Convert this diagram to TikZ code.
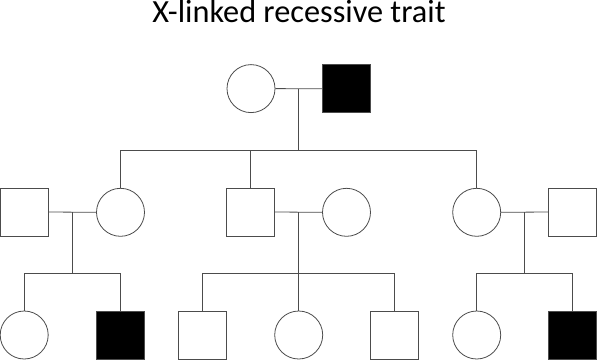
\documentclass[tikz,border=0pt]{standalone}
\usepackage{fontspec}
\setmainfont{Carlito}
\begin{document}
\begin{tikzpicture}[x=1pt,y=-1pt,
  ln/.style={draw=black!70, line width=0.8pt},
  fem/.style={ln, circle, minimum size=48pt, inner sep=0pt, fill=white},
  mal/.style={ln, rectangle, minimum size=48pt, inner sep=0pt, fill=white},
  aff/.style={mal, fill=black}]
\useasboundingbox (0,0) rectangle (597,360);
\node[anchor=base, font=\fontsize{32.3}{38}\selectfont] (title) at (299,22.7) {X-linked recessive trait};
% generation 1
\node[fem] (g1f) at (251,88.6) {};
\node[aff] (g1m) at (346.4,88.8) {};
\coordinate (g1j) at (298.7,88.7);
\coordinate (g1s) at (298.7,150);
\coordinate (sibL) at (120.5,150);
\coordinate (sibM) at (250.8,150);
\coordinate (sibR) at (476.7,150);
% generation 2
\node[mal] (g2a) at (24.2,212) {};
\node[fem] (g2b) at (120.5,212.3) {};
\node[mal] (g2c) at (250.8,212) {};
\node[fem] (g2d) at (346.5,212.3) {};
\node[fem] (g2e) at (476.7,212.3) {};
\node[mal] (g2f) at (572.8,212) {};
\coordinate (j1) at (72,212.3);
\coordinate (j2) at (298.7,212.3);
\coordinate (j3) at (524.7,212.3);
\coordinate (k1) at (72,273.3);
\coordinate (k2) at (298.7,273.3);
\coordinate (k3) at (524.7,273.3);
% generation 3
\node[fem] (g3a) at (24.2,335) {};
\node[aff] (g3b) at (120.5,335) {};
\node[mal] (g3c) at (202.7,335) {};
\node[fem] (g3d) at (298.7,335) {};
\node[mal] (g3e) at (394.2,335) {};
\node[fem] (g3f) at (476.7,335) {};
\node[aff] (g3g) at (572.8,335) {};
% connectors
\draw[ln] (g1f.east) -- (g1m.west);
\draw[ln] (g1j) -- (g1s);
\draw[ln] (sibL) -- (sibR);
\draw[ln] (sibL) -- (g2b.north);
\draw[ln] (sibM) -- (g2c.north);
\draw[ln] (sibR) -- (g2e.north);
\draw[ln] (g2a.east) -- (g2b.west);
\draw[ln] (g2c.east) -- (g2d.west);
\draw[ln] (g2e.east) -- (g2f.west);
\draw[ln] (j1) -- (k1);
\draw[ln] (j2) -- (k2);
\draw[ln] (j3) -- (k3);
\draw[ln] (g3a.north) |- (k1) -| (g3b.north);
\draw[ln] (g3c.north) |- (k2) -| (g3e.north);
\draw[ln] (k2) -- (g3d.north);
\draw[ln] (g3f.north) |- (k3) -| (g3g.north);
\end{tikzpicture}
\end{document}
